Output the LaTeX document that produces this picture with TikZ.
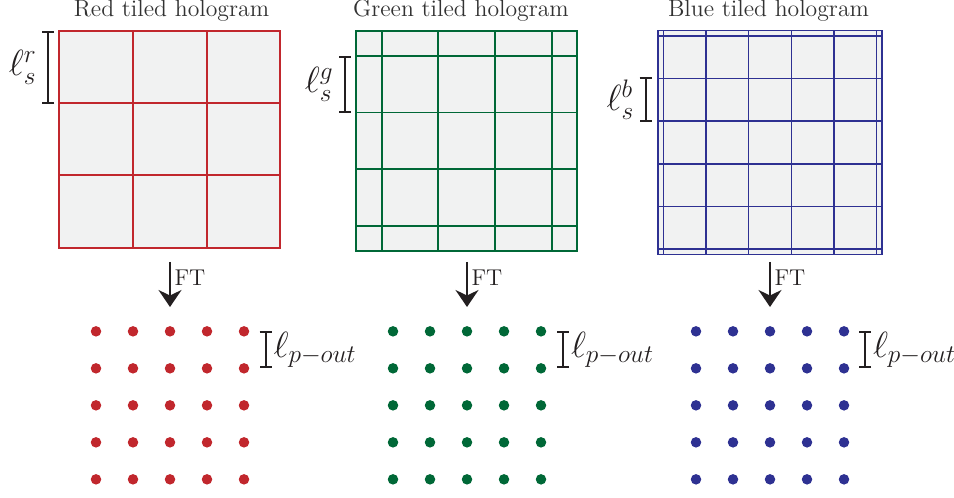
\documentclass[tikz,border=0pt]{standalone}
\usetikzlibrary{arrows.meta}

\definecolor{holored}{RGB}{193,39,45}
\definecolor{hologreen}{RGB}{0,104,55}
\definecolor{holoblue}{RGB}{46,49,146}
\definecolor{holofill}{RGB}{241,242,242}
\definecolor{inkblack}{RGB}{35,31,32}
\definecolor{titlegray}{RGB}{50,50,50}

\begin{document}
\begin{tikzpicture}[x=1cm, y=1cm,
    holo/.style={rectangle, fill=holofill, inner sep=0pt},
    gridline/.style={line width=1.1pt},
    title/.style={text=titlegray, font=\fontsize{13.5}{16}\selectfont, anchor=base},
    spot/.style={circle, inner sep=0pt, minimum size=2.1mm},
    bracket/.style={inkblack, line width=1.1pt, {Bar[width=2.4mm]}-{Bar[width=2.4mm]}},
    ftarrow/.style={inkblack, line width=1.2pt, -{Stealth[length=3.4mm, width=4.6mm]}},
    ftlabel/.style={text=inkblack, font=\fontsize{13}{15}\selectfont, inner sep=2pt},
    lbl/.style={text=inkblack, font=\fontsize{20}{24}\selectfont, inner sep=1pt}]
  \useasboundingbox (0,0) rectangle (19.08,9.96);

  % holograms
  \node[holo, minimum width=4.41cm, minimum height=4.33cm] (rholo) at (3.395,7.175) {};
  \node[holo, minimum width=4.4cm, minimum height=4.394cm] (gholo) at (9.333,7.143) {};
  \node[holo, minimum width=4.466cm, minimum height=4.46cm] (bholo) at (15.4,7.11) {};

  \foreach \x in {2.665,4.135}
    \draw[gridline, holored] (\x,5.01) -- (\x,9.34);
  \foreach \y in {6.453,7.897}
    \draw[gridline, holored] (1.19,\y) -- (5.6,\y);
  \draw[gridline, holored] (rholo.south west) rectangle (rholo.north east);

  \foreach \d in {-1.7,-0.567,0.567,1.7} {
    \draw[gridline, hologreen] (9.333+\d,4.946) -- (9.333+\d,9.34);
    \draw[gridline, hologreen] (7.133,7.143+\d) -- (11.533,7.143+\d);
  }
  \draw[gridline, hologreen] (gholo.south west) rectangle (gholo.north east);

  \foreach \d in {-2.133,-1.28,-0.427,0.427,1.28,2.133} {
    \draw[line width=0.85pt, holoblue] (15.4+\d,4.88) -- (15.4+\d,9.34);
    \draw[line width=0.85pt, holoblue] (13.167,7.11+\d) -- (17.633,7.11+\d);
  }
  \draw[line width=0.85pt, holoblue] (bholo.south west) rectangle (bholo.north east);

  \node[title] (rtitle) at (3.43,9.63) {Red tiled hologram};
  \node[title] (gtitle) at (9.22,9.63) {Green tiled hologram};
  \node[title] (btitle) at (15.37,9.63) {Blue tiled hologram};

  % tile size markers
  \coordinate (rs1) at (0.96,9.34);
  \coordinate (rs2) at (0.96,7.874);
  \coordinate (gs1) at (6.9,8.84);
  \coordinate (gs2) at (6.9,7.706);
  \coordinate (bs1) at (12.913,8.42);
  \coordinate (bs2) at (12.913,7.526);
  \draw[bracket] (rs1) -- (rs2) node[midway, lbl, left=5pt] (rslbl) {$\ell_s^r$};
  \draw[bracket] (gs1) -- (gs2) node[midway, lbl, left=5pt] (gslbl) {$\ell_s^g$};
  \draw[bracket] (bs1) -- (bs2) node[midway, lbl, left=5pt] (bslbl) {$\ell_s^b$};

  % Fourier transform arrows
  \coordinate (rft1) at (3.4,4.72);
  \coordinate (rft2) at (3.4,3.82);
  \coordinate (gft1) at (9.34,4.72);
  \coordinate (gft2) at (9.34,3.82);
  \coordinate (bft1) at (15.4,4.72);
  \coordinate (bft2) at (15.4,3.82);
  \draw[ftarrow] (rft1) -- (rft2) node[pos=0.36, right, ftlabel] (rft) {FT};
  \draw[ftarrow] (gft1) -- (gft2) node[pos=0.36, right, ftlabel] (gft) {FT};
  \draw[ftarrow] (bft1) -- (bft2) node[pos=0.36, right, ftlabel] (bft) {FT};

  % output spots
  \foreach \i in {1,...,5}
    \foreach \j in {1,...,5} {
      \node[spot, fill=holored] (rspot\i\j) at (3.4+0.74*\i-2.22,3.333-0.74*\j+0.74) {};
      \node[spot, fill=hologreen] (gspot\i\j) at (9.34+0.74*\i-2.22,3.333-0.74*\j+0.74) {};
      \node[spot, fill=holoblue] (bspot\i\j) at (15.4+0.74*\i-2.22,3.333-0.74*\j+0.74) {};
    }

  \coordinate (rp1) at (5.313,3.333);
  \coordinate (rp2) at (5.313,2.593);
  \coordinate (gp1) at (11.26,3.333);
  \coordinate (gp2) at (11.26,2.593);
  \coordinate (bp1) at (17.3,3.333);
  \coordinate (bp2) at (17.3,2.593);
  \draw[bracket] (rp1) -- (rp2) node[midway, lbl, right=3pt] (rplbl) {$\ell_{p-out}$};
  \draw[bracket] (gp1) -- (gp2) node[midway, lbl, right=3pt] (gplbl) {$\ell_{p-out}$};
  \draw[bracket] (bp1) -- (bp2) node[midway, lbl, right=3pt] (bplbl) {$\ell_{p-out}$};
\end{tikzpicture}
\end{document}
